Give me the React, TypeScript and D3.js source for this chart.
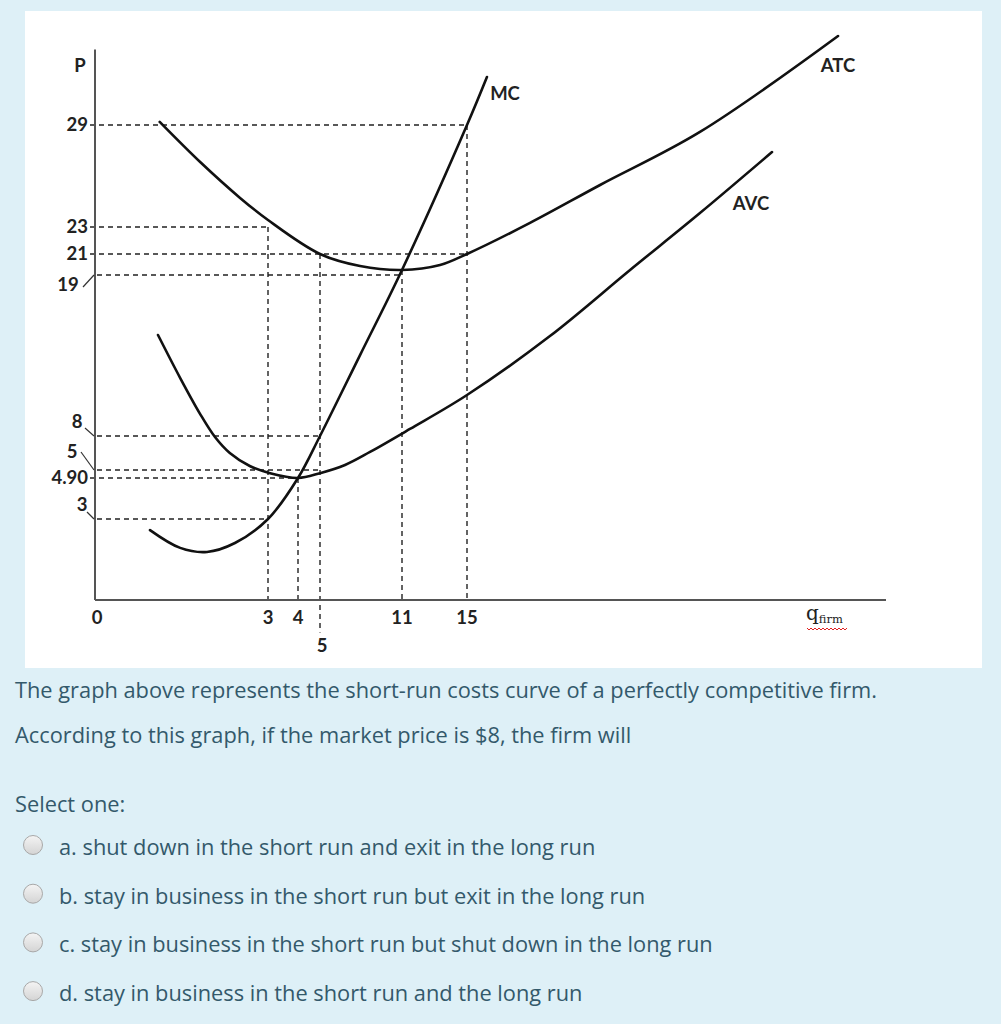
import React from 'react';
import * as d3 from 'd3';

// ---- data (schematic cost curves) ----
const qTicks = [0, 3, 4, 11, 15];
const qTickLabels = ['0', '3', '4', '11', '15'];
const qLowTick = 5;
const qLowLabel = '5';

const pPlainTicks = [29, 23, 21, 4.9];
const pPlainLabels = ['29', '23', '21', '4.90'];
const pLeaderTicks = [19, 8, 5, 3];
const pLeaderLabels = ['19', '8', '5', '3'];

const mcQ = [0.93, 1.46, 1.93, 2.42, 3, 4, 5, 7.93, 11, 15, 16.19];
const mcP = [2.59, 1.93, 1.78, 2.11, 3, 4.9, 8, 13.53, 19.48, 29, 31.8];

const avcQ = [1.07, 1.46, 1.81, 2.07, 2.33, 2.68, 3.07, 4, 5, 6.83, 8.66, 11.49, 15, 19.95, 24.73, 28.9, 33.2];
const avcP = [14.9, 11.96, 9.5, 7.91, 6.5, 5.35, 4.96, 4.9, 4.96, 5.44, 6.59, 8.48, 10.8, 14.83, 19.48, 23.82, 27.41];

const atcQ = [1.1, 1.81, 2.51, 3, 5, 7.93, 11, 13.34, 15, 18.76, 22.94, 28.9, 37.14];
const atcP = [29.18, 26.82, 24.71, 23.41, 21, 19.86, 19.48, 19.95, 21, 23.24, 25.47, 28.59, 34.19];

// guide lines: horizontal price level -> quantity where it stops
const hGuideP = [29, 23, 21, 19, 8, 5, 4.9, 3];
const hGuideQ = [15, 3, 15, 11, 5, 5, 4, 3];
// vertical guides: quantity, from price, to price
const vGuideQ = [3, 4, 5, 11, 15];
const vGuideFrom = [23, 4.9, 21, 19.48, 29];
const vGuideTo = [0, 0, -1.2, 0, 0];

const question1 = 'The graph above represents the short-run costs curve of a perfectly competitive firm.';
const question2 = 'According to this graph, if the market price is $8, the firm will';
const selectLabel = 'Select one:';
const options = [
  'a. shut down in the short run and exit in the long run',
  'b. stay in business in the short run but exit in the long run',
  'c. stay in business in the short run but shut down in the long run',
  'd. stay in business in the short run and the long run',
];

// ---- layout ----
const W = 1001;
const H = 1024;
const xScale = d3.scaleLinear().domain([0, 3, 4, 5, 11, 15, 40]).range([97, 268, 298, 320, 402, 467, 886]);
const yScale = d3.scaleLinear().domain([0, 3, 4.9, 5, 8, 19, 21, 23, 29, 36]).range([600, 519, 478, 470, 436, 275, 254, 227, 125, 5]);
const yAxisTop = 33.4;
const xAxisEnd = 40;

// leader label offsets (label anchor dx, dy; leader start dx, dy) relative to axis point
const leaderLayout = [
  { lx: -29, ly: 11, sx: -14, sy: 12 },
  { lx: -20, ly: -13, sx: -12, sy: -8 },
  { lx: -25, ly: -17, sx: -16, sy: -18 },
  { lx: -15, ly: -13, sx: -10, sy: -7 },
];

const chartFont = 'Lato, "Open Sans", sans-serif';
const textFont = '"Open Sans", "Noto Sans", sans-serif';
const textColor = '#33596b';

function curvePath(qs: number[], ps: number[]) {
  const pts = qs.map((q, i) => [q, ps[i]] as [number, number]);
  return d3
    .line<[number, number]>()
    .x((d) => xScale(d[0]))
    .y((d) => yScale(d[1]))
    .curve(d3.curveCatmullRom.alpha(0.5))(pts) as string;
}

function squiggle(x0: number, x1: number, y: number) {
  const pts: [number, number][] = [];
  for (let x = x0, i = 0; x <= x1; x += 2, i++) pts.push([x, y + (i % 2 === 0 ? 0 : 2)]);
  return d3.line()(pts) as string;
}

export default function App() {
  const x0 = xScale(0);
  const y0 = yScale(0);
  return (
    <svg width={W} height={H} style={{ position: 'absolute', left: 0, top: 0, display: 'block' }}>
      <rect x={0} y={0} width={W} height={H} fill="#def0f7" />
      <rect x={25} y={11} width={957} height={657} fill="#ffffff" />

      {/* guides */}
      <g stroke="#222" strokeWidth={1.4} strokeDasharray="5,4" fill="none">
        {hGuideP.map((p, i) => (
          <line key={'h' + i} x1={pPlainTicks.includes(p) ? x0 - 7 : x0} x2={xScale(hGuideQ[i])} y1={yScale(p)} y2={yScale(p)} />
        ))}
        {vGuideQ.map((q, i) => (
          <line key={'v' + i} x1={xScale(q)} x2={xScale(q)} y1={yScale(vGuideFrom[i])} y2={yScale(vGuideTo[i])} />
        ))}
      </g>

      {/* axes */}
      <g stroke="#555" strokeWidth={2} fill="none">
        <line x1={x0 - 2} x2={x0 - 2} y1={yScale(yAxisTop)} y2={y0} />
        <line x1={x0 - 2} x2={xScale(xAxisEnd)} y1={y0} y2={y0} />
      </g>

      {/* curves */}
      <g stroke="#111" strokeWidth={2.6} fill="none" strokeLinecap="round">
        <path d={curvePath(mcQ, mcP)} />
        <path d={curvePath(avcQ, avcP)} />
        <path d={curvePath(atcQ, atcP)} />
      </g>

      {/* axis labels */}
      <g fontFamily={chartFont} fontWeight="bold" fontSize={18.5} fill="#222">
        <text x={80} y={67} textAnchor="middle" dominantBaseline="middle">P</text>
        {pPlainTicks.map((p, i) => (
          <text key={'pp' + i} x={x0 - 9} y={yScale(p) + 1} textAnchor="end" dominantBaseline="middle">
            {pPlainLabels[i]}
          </text>
        ))}
        {pLeaderTicks.map((p, i) => {
          const L = leaderLayout[i];
          const ay = yScale(p);
          return (
            <g key={'pl' + i}>
              <text x={x0 + L.lx} y={ay + L.ly} textAnchor="middle" dominantBaseline="middle">
                {pLeaderLabels[i]}
              </text>
              <line x1={x0 + L.sx} y1={ay + L.sy} x2={x0 - 3} y2={ay} stroke="#333" strokeWidth={1.2} />
            </g>
          );
        })}
        {qTicks.map((q, i) => (
          <text key={'q' + i} x={xScale(q)} y={624} textAnchor="middle">
            {qTickLabels[i]}
          </text>
        ))}
        <text x={xScale(qLowTick) + 2} y={652} textAnchor="middle">{qLowLabel}</text>
        <text x={505} y={100} textAnchor="middle">MC</text>
        <text x={838} y={72} textAnchor="middle">ATC</text>
        <text x={751} y={210} textAnchor="middle">AVC</text>
      </g>

      {/* q_firm */}
      <text x={806} y={620} fontFamily='"DejaVu Serif", serif' fill="#222">
        <tspan fontSize={20}>q</tspan>
        <tspan fontSize={11.5} dy={3}>firm</tspan>
      </text>
      <path d={squiggle(807, 847, 628)} stroke="#e02020" strokeWidth={1} fill="none" />

      {/* question text */}
      <g fontFamily={textFont} fontSize={21.8} fill={textColor}>
        <text x={15} y={698}>{question1}</text>
        <text x={15} y={743}>{question2}</text>
        <text x={15} y={812}>{selectLabel}</text>
        {options.map((o, i) => (
          <text key={'o' + i} x={59} y={855 + i * 48.7}>{o}</text>
        ))}
      </g>
      <defs>
        <linearGradient id="rg" x1="0" y1="0" x2="0" y2="1">
          <stop offset="0" stopColor="#f4f4f4" />
          <stop offset="1" stopColor="#d4d4d4" />
        </linearGradient>
      </defs>
      {options.map((o, i) => (
        <circle key={'r' + i} cx={33} cy={845 + i * 48.7} r={9.5} fill="url(#rg)" stroke="#a8a8a8" strokeWidth={1} />
      ))}
    </svg>
  );
}
